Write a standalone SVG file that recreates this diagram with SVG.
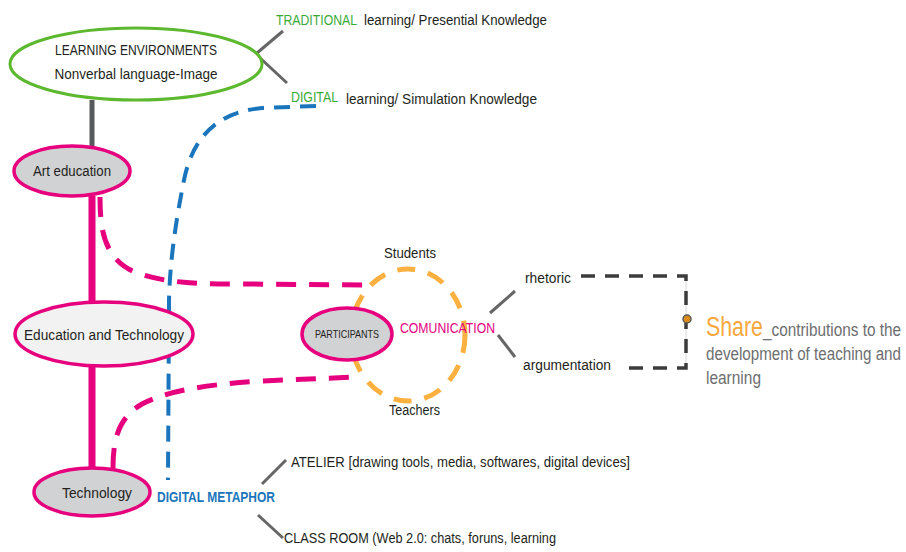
<svg xmlns="http://www.w3.org/2000/svg" width="906" height="552" viewBox="0 0 906 552">
  <style>
    text { font-family: "Liberation Sans Narrow", "Liberation Sans", Arial, sans-serif; fill: #231f20; }
    .t14 { font-size: 15.5px; }
    .green { fill: #3aaa35; }
    .mag { fill: #e6007e; }
    .blue { fill: #1b75bc; font-weight: bold; }
    .share-body { fill: #6d6e70; font-size: 17.5px; }
    .node-pink { stroke: #e6007e; stroke-width: 3.5; }
    .gray-fill { fill: #d1d2d4; }
    .tick { stroke: #666666; stroke-width: 3; fill: none; }
  </style>

  <rect width="906" height="552" fill="#ffffff"/>

  <!-- connectors -->
  <g id="connectors" fill="none">
    <!-- solid spine -->
    <line x1="92" y1="100" x2="92" y2="147" stroke="#58595b" stroke-width="5"/>
    <line x1="92" y1="196" x2="92" y2="468" stroke="#e6007e" stroke-width="7"/>

    <!-- branch ticks -->
    <line class="tick" x1="257" y1="53" x2="283" y2="31"/>
    <line class="tick" x1="259" y1="57" x2="287" y2="83"/>
    <line class="tick" x1="490" y1="313" x2="515" y2="291"/>
    <line class="tick" x1="498" y1="335" x2="515" y2="357"/>
    <line class="tick" x1="262" y1="484" x2="286" y2="460"/>
    <line class="tick" x1="258" y1="515" x2="283" y2="538"/>

    <!-- blue dashed digital path -->
    <path d="M316,106 L262,108 C215,112 192,140 184,180 C176,220 170,260 169,300 L168,480"
          stroke="#1b75bc" stroke-width="4" stroke-dasharray="16 10"/>

    <!-- magenta dashed links to participants -->
    <path d="M100,197 C100,230 104,262 140,274 C165,282 190,284 240,284 L372,285"
          stroke="#e6007e" stroke-width="5" stroke-dasharray="20 13"/>
    <path d="M113,468 C113,440 118,418 142,404 C165,392 200,385 260,381 L357,377"
          stroke="#e6007e" stroke-width="5" stroke-dasharray="20 13"/>

    <!-- orange dashed communication circle -->
    <ellipse cx="408" cy="335" rx="57" ry="66" stroke="#fbb040" stroke-width="5" stroke-dasharray="18 13"/>

    <!-- dark dashed bracket toward Share -->
    <line x1="686" y1="276" x2="686" y2="368" stroke="#d9d9d9" stroke-width="1"/>
    <path d="M581,276 L684,276 L686,276 L686,368 L625,368"
          stroke="#3c3c3c" stroke-width="3.5" stroke-dasharray="14 10"/>
    <circle cx="687" cy="319" r="4" fill="#d98c1a" stroke="#5a5a5a" stroke-width="1.5"/>
  </g>

  <!-- nodes -->
  <g id="learning-environments">
    <ellipse cx="136" cy="64" rx="126" ry="36" fill="#ffffff" stroke="#5cb82e" stroke-width="3"/>
    <text class="t14" x="136" y="55" text-anchor="middle" textLength="162" lengthAdjust="spacingAndGlyphs">LEARNING ENVIRONMENTS</text>
    <text class="t14" x="136" y="79" text-anchor="middle" textLength="163" lengthAdjust="spacingAndGlyphs">Nonverbal language-Image</text>
  </g>

  <g id="traditional">
    <text class="t14 green" x="276" y="25" textLength="81" lengthAdjust="spacingAndGlyphs">TRADITIONAL</text>
    <text class="t14" x="364" y="25" textLength="183" lengthAdjust="spacingAndGlyphs">learning/ Presential Knowledge</text>
  </g>

  <g id="digital">
    <text class="t14 green" x="291" y="102" textLength="47" lengthAdjust="spacingAndGlyphs">DIGITAL</text>
    <text class="t14" x="346" y="104" textLength="191" lengthAdjust="spacingAndGlyphs">learning/ Simulation Knowledge</text>
  </g>

  <g id="art-education">
    <ellipse class="node-pink gray-fill" cx="72" cy="171" rx="58" ry="25"/>
    <text class="t14" x="72" y="176" text-anchor="middle" textLength="78" lengthAdjust="spacingAndGlyphs">Art education</text>
  </g>

  <g id="education-technology">
    <ellipse class="node-pink" cx="104" cy="334" rx="89" ry="32" fill="#f2f2f2"/>
    <text class="t14" x="104" y="340" text-anchor="middle" textLength="160" lengthAdjust="spacingAndGlyphs">Education  and Technology</text>
  </g>

  <g id="technology">
    <ellipse class="node-pink gray-fill" cx="92" cy="492" rx="58" ry="24"/>
    <text class="t14" x="97" y="498" text-anchor="middle" textLength="70" lengthAdjust="spacingAndGlyphs">Technology</text>
  </g>

  <g id="participants">
    <ellipse class="node-pink gray-fill" cx="347" cy="334" rx="45" ry="26" stroke-width="3"/>
    <text x="347" y="338" font-size="11" text-anchor="middle" textLength="64" lengthAdjust="spacingAndGlyphs">PARTICIPANTS</text>
  </g>

  <g id="students">
    <text class="t14" x="384" y="258" textLength="52" lengthAdjust="spacingAndGlyphs">Students</text>
  </g>

  <g id="teachers">
    <text class="t14" x="389" y="415" textLength="51" lengthAdjust="spacingAndGlyphs">Teachers</text>
  </g>

  <g id="comunication">
    <text class="t14 mag" x="400" y="333" textLength="95" lengthAdjust="spacingAndGlyphs">COMUNICATION</text>
  </g>

  <g id="rhetoric">
    <text class="t14" x="525" y="283" textLength="46" lengthAdjust="spacingAndGlyphs">rhetoric</text>
  </g>

  <g id="argumentation">
    <text class="t14" x="523" y="370" textLength="88" lengthAdjust="spacingAndGlyphs">argumentation</text>
  </g>

  <g id="share">
    <text x="706" y="336" font-size="27" style="fill:#f9a83e" textLength="57" lengthAdjust="spacingAndGlyphs">Share</text>
    <text class="share-body" x="763" y="336" textLength="138" lengthAdjust="spacingAndGlyphs">_contributions to the</text>
    <text class="share-body" x="706" y="360" textLength="195" lengthAdjust="spacingAndGlyphs">development of teaching and</text>
    <text class="share-body" x="706" y="384" textLength="55" lengthAdjust="spacingAndGlyphs">learning</text>
  </g>

  <g id="digital-metaphor">
    <text class="t14 blue" x="157" y="502" textLength="118" lengthAdjust="spacingAndGlyphs">DIGITAL METAPHOR</text>
  </g>

  <g id="atelier">
    <text class="t14" x="291" y="467" textLength="339" lengthAdjust="spacingAndGlyphs">ATELIER [drawing tools, media, softwares,  digital devices]</text>
  </g>

  <g id="class-room">
    <text class="t14" x="284" y="543" textLength="272" lengthAdjust="spacingAndGlyphs">CLASS ROOM (Web 2.0: chats, foruns, learning</text>
  </g>
</svg>
